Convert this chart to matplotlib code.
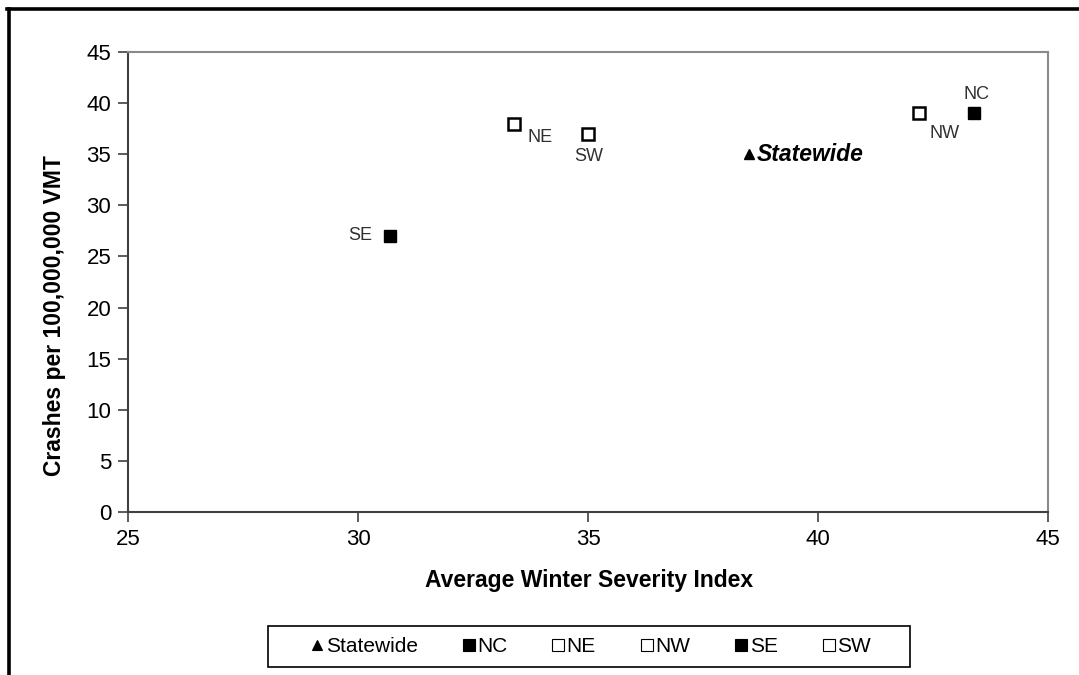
import matplotlib
matplotlib.use("Agg")
import matplotlib.pyplot as plt
from matplotlib.lines import Line2D
from matplotlib.patches import Rectangle

plt.rcParams['font.family'] = ['Liberation Sans', 'DejaVu Sans']

regions = ["Statewide", "NC", "NE", "NW", "SE", "SW"]
severity = [38.5, 43.4, 33.4, 42.2, 30.7, 35.0]
crashes = [35, 39, 38, 39, 27, 37]
markers = ["^", "s", "s", "s", "s", "s"]
filled = [True, True, False, False, True, False]

x_ticks = [25, 30, 35, 40, 45]
y_ticks = [0, 5, 10, 15, 20, 25, 30, 35, 40, 45]

# label offsets in pixels (dx, dy with dy positive = down)
label_offsets = {"Statewide": (8, 0), "NC": (2, -19), "NE": (26, 14),
                 "NW": (25, 20), "SE": (-30, -1), "SW": (1, 23)}

W, H = 1079, 675
fig = plt.figure(figsize=(W / 100, H / 100), dpi=100)
ax = fig.add_axes([128 / W, 1 - 512 / H, (1048 - 128) / W, (512 - 52) / H])

handles = []
for name, xv, yv, m, f in zip(regions, severity, crashes, markers, filled):
    ms = 7.5 if m == "^" else 8.5
    ax.plot([xv], [yv], linestyle="none", marker=m, markersize=ms,
            markerfacecolor="black" if f else "white",
            markeredgecolor="black", markeredgewidth=1.8 if not f else 1.0,
            label=name, clip_on=False, zorder=3)
    dx, dy = label_offsets[name]
    if name == "Statewide":
        ax.annotate(name, (xv, yv), xytext=(dx * 0.72, -dy * 0.72),
                    textcoords="offset points", ha="left", va="center",
                    fontsize=16.5, fontweight="bold", fontstyle="italic", color="black")
    else:
        ax.annotate(name, (xv, yv), xytext=(dx * 0.72, -dy * 0.72),
                    textcoords="offset points", ha="center", va="center",
                    fontsize=13, color="#303030")

    handles.append(Line2D([], [], linestyle="none", marker=m,
                          markersize=7 if m == "^" else 8,
                          markerfacecolor="black" if f else "white",
                          markeredgecolor="black", markeredgewidth=0.8,
                          label=name))

ax.set_xlim(25, 45)
ax.set_ylim(0, 45)
ax.set_xticks(x_ticks)
ax.set_yticks(y_ticks)
ax.tick_params(axis="both", labelsize=16, direction="out", length=7,
               width=1.2, color="#404040", pad=5)
for s in ["left", "bottom"]:
    ax.spines[s].set_color("#404040")
    ax.spines[s].set_linewidth(1.5)
for s in ["top", "right"]:
    ax.spines[s].set_color("#8a8a8a")
    ax.spines[s].set_linewidth(1.5)

fig.text(589 / W, 1 - 580 / H, "Average Winter Severity Index", ha="center",
         va="center", fontsize=16.5, fontweight="bold")
fig.text(55 / W, 1 - 316 / H, "Crashes per 100,000,000 VMT", ha="center",
         va="center", rotation=90, fontsize=16.5, fontweight="bold")

fig.legend(handles=handles, loc="center", ncol=6,
           bbox_to_anchor=(591 / W, 1 - 646.5 / H), fontsize=15,
           frameon=False, handlelength=0.6, handletextpad=0.1,
           columnspacing=2.15, borderpad=0.35, borderaxespad=0)
# legend box
fig.add_artist(Rectangle((268 / W, 1 - 667 / H), (910 - 268) / W, (667 - 626) / H,
                         transform=fig.transFigure, fill=False,
                         edgecolor="black", linewidth=1.2))

# outer chart frame (extends beyond the image on right and bottom)
fig.add_artist(Line2D([8.5 / W, 8.5 / W], [0, 1 - 8.5 / H], transform=fig.transFigure,
                      color="black", linewidth=2.6))
fig.add_artist(Line2D([7.2 / W, 1], [1 - 8.5 / H, 1 - 8.5 / H], transform=fig.transFigure,
                      color="black", linewidth=2.6))

fig.savefig("out.png", dpi=100)
